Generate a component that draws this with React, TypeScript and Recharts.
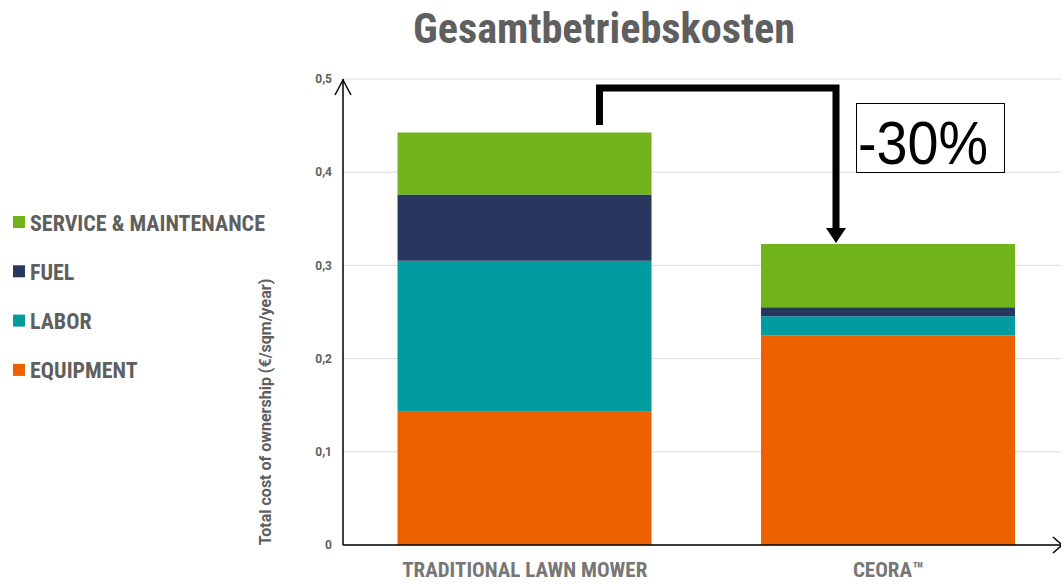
import { BarChart, Bar, XAxis, YAxis, CartesianGrid } from 'recharts'

const categories = ['TRADITIONAL LAWN MOWER', 'CEORA™']
const equipment = [0.143, 0.225]
const labor = [0.162, 0.0205]
const fuel = [0.071, 0.0095]
const service = [0.0665, 0.068]
const yTicks = [0, 0.1, 0.2, 0.3, 0.4, 0.5]

const series = [
  { key: 'equipment', name: 'EQUIPMENT', color: '#eb6100', values: equipment },
  { key: 'labor', name: 'LABOR', color: '#009ca0', values: labor },
  { key: 'fuel', name: 'FUEL', color: '#27375e', values: fuel },
  { key: 'service', name: 'SERVICE & MAINTENANCE', color: '#72b41c', values: service },
]

const data = categories.map((name, i) => {
  const row: Record<string, string | number> = { name }
  series.forEach((s) => {
    row[s.key] = s.values[i]
  })
  return row
})

const condensed = "'Roboto Condensed', 'Liberation Sans Narrow', 'DejaVu Sans Condensed', Roboto, sans-serif"
const grey = '#5f5f5f'

const W = 1075
const H = 584
const margin = { top: 79, right: 5, bottom: 0, left: 263 }

function Overlay() {
  const legendItems = [...series].reverse()
  return (
    <svg
      width={1061}
      height={H}
      style={{ position: 'absolute', left: 0, top: 0, pointerEvents: 'none' }}
    >
      <text
        x={604}
        y={43}
        textAnchor="middle"
        fontFamily={condensed}
        fontWeight={700}
        fontSize={42}
        fill={grey}
        textLength={382}
        lengthAdjust="spacingAndGlyphs"
      >
        Gesamtbetriebskosten
      </text>

      {legendItems.map((s, i) => (
        <g key={s.key}>
          <rect x={13} y={216 + i * 49.3} width={12} height={12} fill={s.color} />
          <text
            x={30}
            y={230.5 + i * 49.3}
            fontFamily={condensed}
            fontWeight={700}
            fontSize={22}
            fill={grey}
          >
            {s.name}
          </text>
        </g>
      ))}

      <text
        transform="translate(271,412) rotate(-90)"
        textAnchor="middle"
        fontFamily="Roboto, sans-serif"
        fontWeight={700}
        fontSize={16}
        fill={grey}
      >
        Total cost of ownership (€/sqm/year)
      </text>

      {/* axis arrow heads */}
      <polyline points="335,95 343,80 351,95" fill="none" stroke="#000" strokeWidth={1.5} />
      <polyline points="1053,537 1062,545 1053,553" fill="none" stroke="#000" strokeWidth={1.5} />

      {/* -30% bracket */}
      <path d="M599.5,125 V88 H836 V230" fill="none" stroke="#000" strokeWidth={7} />
      <polygon points="826,228 846,228 836,243" fill="#000" />
      <rect x={856.5} y={103.5} width={148} height={69} fill="#fff" stroke="#000" strokeWidth={1} />
      <text
        x={858}
        y={164}
        fontFamily="'Liberation Sans', Arial, sans-serif"
        fontSize={62}
        fill="#000"
        textLength={130}
        lengthAdjust="spacingAndGlyphs"
      >
        -30%
      </text>
    </svg>
  )
}

export default function App() {
  return (
    <div
      style={{
        position: 'absolute',
        left: 0,
        top: 0,
        width: 1061,
        height: H,
        overflow: 'hidden',
        background: '#fff',
      }}
    >
      <BarChart width={W} height={H} data={data} margin={margin} barCategoryGap="15%">
        <CartesianGrid vertical={false} stroke="#dcdcdc" />
        <XAxis
          dataKey="name"
          height={39}
          tickLine={false}
          axisLine={{ stroke: '#000', strokeWidth: 1.5 }}
          tickMargin={11}
          tick={{ fontFamily: condensed, fontWeight: 700, fontSize: 21, fill: '#777' }}
        />
        <YAxis
          width={80}
          domain={[0, 0.5]}
          ticks={yTicks}
          tickLine={false}
          tickMargin={5}
          axisLine={{ stroke: '#000', strokeWidth: 1.5 }}
          tickFormatter={(v: number) => String(v).replace('.', ',')}
          tick={{ fontFamily: 'Roboto, sans-serif', fontWeight: 700, fontSize: 12, fill: grey }}
        />
        {series.map((s) => (
          <Bar
            key={s.key}
            dataKey={s.key}
            name={s.name}
            stackId="a"
            fill={s.color}
            isAnimationActive={false}
          />
        ))}
      </BarChart>
      <Overlay />
    </div>
  )
}
